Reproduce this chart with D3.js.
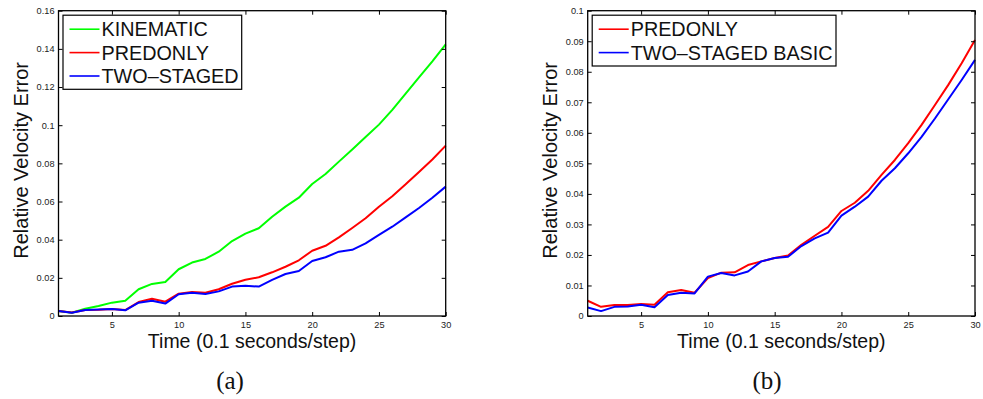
<!DOCTYPE html>
<html>
<head>
<meta charset="utf-8">
<script src="https://cdn.jsdelivr.net/npm/d3@7"></script>
<style>
  html, body { margin: 0; padding: 0; background: #fff; }
  svg { display: block; }
</style>
</head>
<body>
<svg id="fig" width="983" height="399"></svg>
<script>
// Time steps (0.1 s each)
const steps = [1, 2, 3, 4, 5, 6, 7, 8, 9, 10, 11, 12, 13, 14, 15,
               16, 17, 18, 19, 20, 21, 22, 23, 24, 25, 26, 27, 28, 29, 30];

// Panel (a): relative velocity error per step
const kinematicA = [0.0026, 0.0017, 0.0038, 0.0052, 0.0070, 0.0080, 0.0140, 0.0168, 0.0178, 0.0245,
                    0.0280, 0.0299, 0.0337, 0.0393, 0.0432, 0.0460, 0.0520, 0.0573, 0.0620, 0.0692,
                    0.0744, 0.0809, 0.0873, 0.0938, 0.1003, 0.1080, 0.1165, 0.1250, 0.1335, 0.1424];
const predonlyA  = [0.0026, 0.0018, 0.0031, 0.0033, 0.0037, 0.0031, 0.0073, 0.0090, 0.0075, 0.0117,
                    0.0126, 0.0122, 0.0140, 0.0169, 0.0190, 0.0203, 0.0229, 0.0258, 0.0292, 0.0342,
                    0.0368, 0.0412, 0.0461, 0.0512, 0.0573, 0.0628, 0.0690, 0.0755, 0.0820, 0.0893];
const twoStagedA = [0.0026, 0.0017, 0.0031, 0.0034, 0.0037, 0.0030, 0.0070, 0.0080, 0.0065, 0.0114,
                    0.0122, 0.0115, 0.0129, 0.0154, 0.0158, 0.0154, 0.0189, 0.0220, 0.0236, 0.0288,
                    0.0308, 0.0337, 0.0347, 0.0381, 0.0425, 0.0468, 0.0517, 0.0566, 0.0620, 0.0678];

// Panel (b)
const predonlyB  = [0.0050, 0.0030, 0.0036, 0.0036, 0.0039, 0.0037, 0.0078, 0.0085, 0.0076, 0.0124,
                    0.0142, 0.0143, 0.0167, 0.0179, 0.0190, 0.0198, 0.0233, 0.0263, 0.0292, 0.0344,
                    0.0371, 0.0410, 0.0462, 0.0511, 0.0566, 0.0626, 0.0691, 0.0757, 0.0828, 0.0904];
const basicB     = [0.0028, 0.0016, 0.0030, 0.0031, 0.0037, 0.0029, 0.0069, 0.0076, 0.0074, 0.0129,
                    0.0141, 0.0133, 0.0146, 0.0179, 0.0190, 0.0194, 0.0229, 0.0254, 0.0273, 0.0329,
                    0.0358, 0.0391, 0.0443, 0.0484, 0.0533, 0.0587, 0.0647, 0.0710, 0.0773, 0.0839];

// Tick values
const xTicks  = [5, 10, 15, 20, 25, 30];
const yTicksA = [0, 0.02, 0.04, 0.06, 0.08, 0.10, 0.12, 0.14, 0.16];
const yTicksB = [0, 0.01, 0.02, 0.03, 0.04, 0.05, 0.06, 0.07, 0.08, 0.09, 0.10];

// Text
const xLabel = "Time (0.1 seconds/step)";
const yLabel = "Relative Velocity Error";
const namesA = ["KINEMATIC", "PREDONLY", "TWO\u2013STAGED"];
const namesB = ["PREDONLY", "TWO\u2013STAGED BASIC"];
const captions = ["(a)", "(b)"];

const svg = d3.select("#fig");
svg.append("rect").attr("width", 983).attr("height", 399).attr("fill", "#fff");

const sans = "'Liberation Sans', Arial, Helvetica, sans-serif";
const fmt = d3.format("~g");

function panel(opts) {
  const { left, right, top, bottom, yMax, yTicks, series, names, legendRight, legendBottom, caption } = opts;
  const x = d3.scaleLinear().domain([1, 30]).range([left, right]);
  const y = d3.scaleLinear().domain([0, yMax]).range([bottom, top]);
  const g = svg.append("g");
  const T = 4; // inward tick length

  // data lines
  const line = d3.line().x((d, i) => x(steps[i])).y(d => y(d));
  series.forEach(s => {
    g.append("path").datum(s.values)
      .attr("fill", "none").attr("stroke", s.color)
      .attr("stroke-width", 2).attr("stroke-linejoin", "round")
      .attr("d", line);
  });

  // axes (ticks point inward, box all around)
  const styleAxis = sel => {
    sel.select(".domain").remove();
    sel.selectAll(".tick line").attr("stroke", "#000").attr("stroke-width", 1);
    sel.selectAll(".tick text").attr("fill", "#222").style("font-family", sans).style("font-size", "9.2px");
  };
  g.append("g").attr("transform", `translate(0,${bottom})`)
    .call(d3.axisBottom(x).tickValues(xTicks).tickSize(-T).tickPadding(5).tickFormat(fmt)).call(styleAxis);
  g.append("g").attr("transform", `translate(0,${top})`)
    .call(d3.axisTop(x).tickValues(xTicks).tickSize(-T).tickFormat("")).call(styleAxis);
  g.append("g").attr("transform", `translate(${left},0)`)
    .call(d3.axisLeft(y).tickValues(yTicks).tickSize(-T).tickPadding(4).tickFormat(fmt)).call(styleAxis);
  g.append("g").attr("transform", `translate(${right},0)`)
    .call(d3.axisRight(y).tickValues(yTicks).tickSize(-T).tickFormat("")).call(styleAxis);

  g.append("rect")
    .attr("x", left).attr("y", top)
    .attr("width", right - left).attr("height", bottom - top)
    .attr("fill", "none").attr("stroke", "#000").attr("stroke-width", 1.3);

  // axis titles
  g.append("text")
    .attr("x", (left + right) / 2).attr("y", bottom + 32)
    .attr("text-anchor", "middle")
    .style("font-family", sans).style("font-size", "19.5px").attr("fill", "#111")
    .text(xLabel);
  g.append("text")
    .attr("transform", `translate(${left - 30.5},${(top + bottom) / 2 - 3}) rotate(-90)`)
    .attr("text-anchor", "middle")
    .style("font-family", sans).style("font-size", "20px").attr("fill", "#111")
    .text(yLabel);

  // legend
  const lx = left + 4.5, ly = top + 4.5;
  g.append("rect")
    .attr("x", lx).attr("y", ly)
    .attr("width", legendRight - lx).attr("height", legendBottom - ly)
    .attr("fill", "#fff").attr("stroke", "#000").attr("stroke-width", 1.2);
  names.forEach((n, i) => {
    const cy = ly + 14 + i * 23.4;
    g.append("line")
      .attr("x1", lx + 6.5).attr("x2", lx + 36.5)
      .attr("y1", cy).attr("y2", cy)
      .attr("stroke", series[i].color).attr("stroke-width", 1.6);
    g.append("text")
      .attr("x", lx + 38.5).attr("y", cy + 7.2)
      .style("font-family", sans).style("font-size", "19.8px").attr("fill", "#111")
      .text(n);
  });

  // caption
  svg.append("text")
    .attr("x", caption.x).attr("y", 389)
    .attr("text-anchor", "middle")
    .style("font-family", "'Liberation Serif', 'DejaVu Serif', serif").style("font-size", "25px")
    .attr("fill", "#111")
    .text(caption.text);
}

panel({
  left: 58.5, right: 445.7, top: 10.7, bottom: 316,
  yMax: 0.16, yTicks: yTicksA,
  series: [
    { values: kinematicA, color: "#00ff00" },
    { values: predonlyA,  color: "#ff0000" },
    { values: twoStagedA, color: "#0000ff" }
  ],
  names: namesA, legendRight: 241.7, legendBottom: 89.3,
  caption: { x: 230, text: captions[0] }
});

panel({
  left: 587.7, right: 975, top: 10.7, bottom: 316,
  yMax: 0.1, yTicks: yTicksB,
  series: [
    { values: predonlyB, color: "#ff0000" },
    { values: basicB,    color: "#0000ff" }
  ],
  names: namesB, legendRight: 836, legendBottom: 66,
  caption: { x: 767, text: captions[1] }
});
</script>
</body>
</html>
